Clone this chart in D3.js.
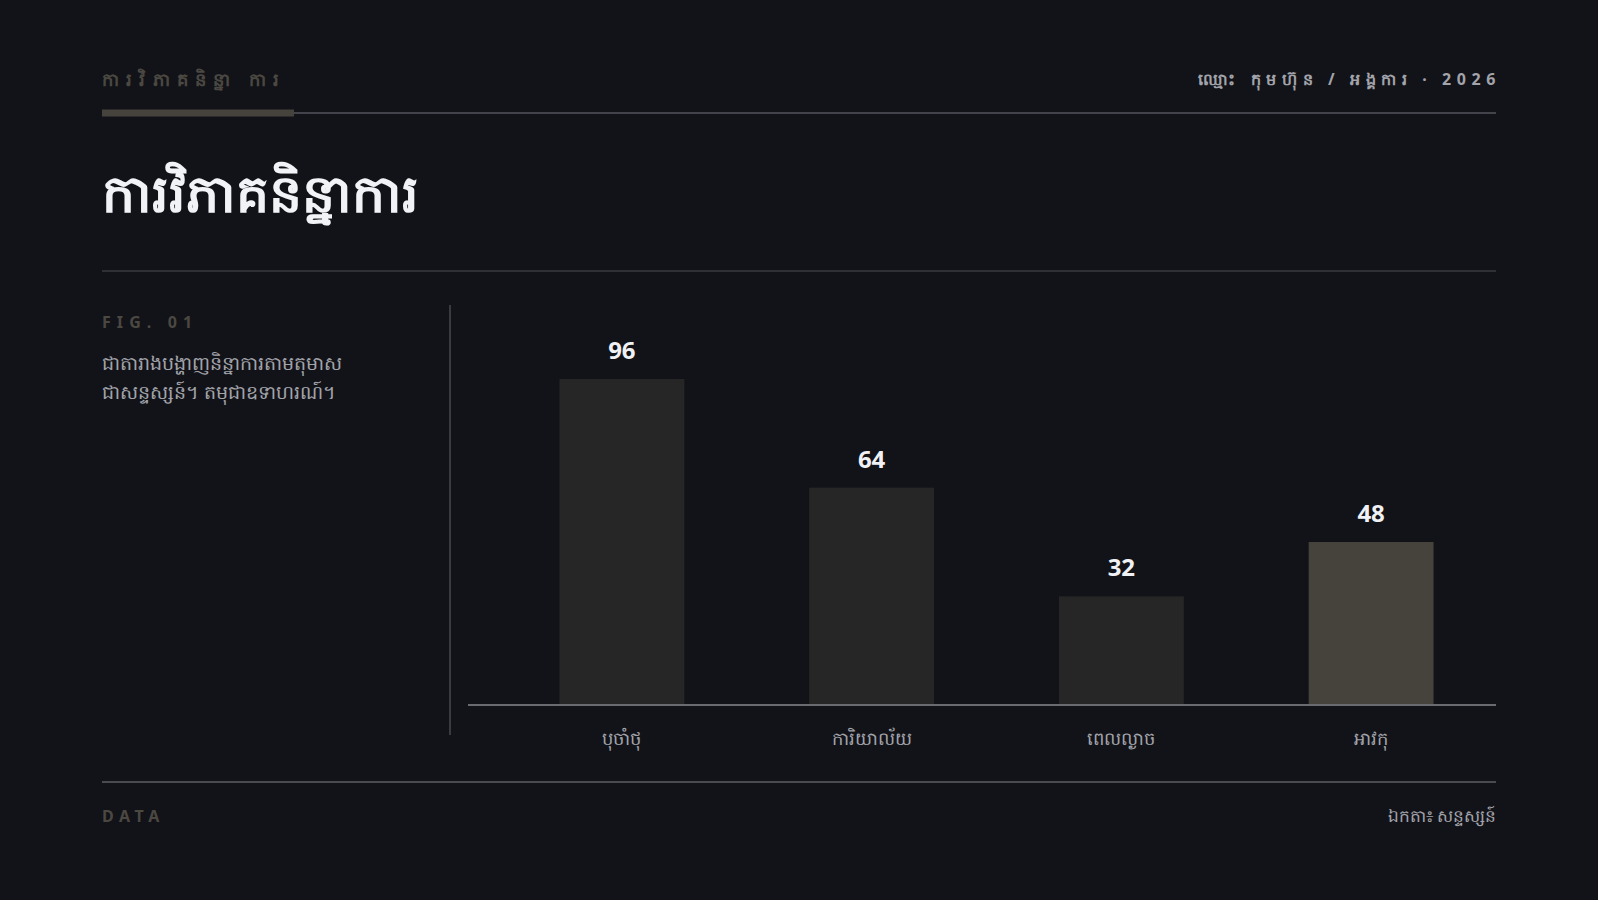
<!DOCTYPE html>
<html>
<head>
<meta charset="utf-8">
<script src="https://cdn.jsdelivr.net/npm/d3@7"></script>
<style>
  html, body { margin: 0; padding: 0; background: #121318; }
  svg { display: block; }
  text { font-family: "Noto Sans", "Open Sans", sans-serif; }
</style>
</head>
<body>
<svg id="chart" width="1598" height="900"></svg>
<script>
const categories = ["បុចាំថុ", "ការិយាល័យ", "ពេលល្ងាច", "អាវកុ"];
const values = [96, 64, 32, 48];
const highlight = [false, false, false, true];
const kicker = "ការវិភាគនិន្នា ការ";
const title = "ការវិភាគនិន្នាការ";
const org = "ឈ្មោះ កុមហ៊ុន / អង្គការ · 2026";
const figLabel = "FIG. 01";
const descLines = ["ជាតារាងបង្ហាញនិន្នាការតាមតុមាស", "ជាសន្ទស្សន៍។ តមុជាឧទាហរណ៍។"];
const footLeft = "DATA";
const footRight = "ឯកតា៖ សន្ទស្សន៍";

const svg = d3.select("#chart");
const W = 1598, L = 102, R = 1496;
const BG = "#121318", RULE = "#3a3b41", MUTED = "#4b4842", SOFT = "#a2a3ab";

svg.append("rect").attr("width", W).attr("height", 900).attr("fill", BG);

// header
svg.append("text").attr("x", L).attr("y", 86).text(kicker)
  .attr("font-size", 18).attr("font-weight", 700).attr("letter-spacing", "0.4em").attr("fill", MUTED);
svg.append("line").attr("x1", 294).attr("x2", R).attr("y1", 113).attr("y2", 113)
  .attr("stroke", "#55565c").attr("stroke-width", 1.5);
svg.append("rect").attr("x", L).attr("y", 109.5).attr("width", 192).attr("height", 7).attr("fill", "#46433d");
svg.append("text").attr("x", R + 5).attr("y", 85).attr("text-anchor", "end").text(org)
  .attr("font-size", 16).attr("font-weight", 700).attr("letter-spacing", "0.35em").attr("fill", SOFT);

// title
svg.append("text").attr("x", L).attr("y", 212).text(title)
  .attr("font-size", 52).attr("font-weight", 700).attr("fill", "#f2f3f7");
svg.append("line").attr("x1", L).attr("x2", R).attr("y1", 271).attr("y2", 271)
  .attr("stroke", RULE).attr("stroke-width", 1.5);

// side notes
svg.append("text").attr("x", L).attr("y", 328).text(figLabel)
  .attr("font-size", 16).attr("font-weight", 700).attr("letter-spacing", "0.38em").attr("fill", MUTED);
svg.selectAll("text.desc").data(descLines).join("text").attr("class", "desc")
  .attr("x", L).attr("y", (d, i) => 370 + i * 29).text(d => d)
  .attr("font-size", 19).attr("fill", SOFT);
svg.append("line").attr("x1", 450).attr("x2", 450).attr("y1", 305).attr("y2", 735)
  .attr("stroke", RULE).attr("stroke-width", 2);

// chart
const x = d3.scaleBand().domain(categories).range([497, R]).paddingInner(0.5).paddingOuter(0.25);
const y = d3.scaleLinear().domain([0, 100]).range([705, 365.4]);

svg.append("g").selectAll("rect").data(values).join("rect")
  .attr("x", (d, i) => x(categories[i]))
  .attr("y", d => y(d))
  .attr("width", x.bandwidth())
  .attr("height", d => y(0) - y(d))
  .attr("fill", (d, i) => highlight[i] ? "#46433d" : "#262626");

svg.append("g").selectAll("text").data(values).join("text")
  .attr("x", (d, i) => x(categories[i]) + x.bandwidth() / 2)
  .attr("y", d => y(d) - 20)
  .attr("text-anchor", "middle").text(d => d)
  .attr("font-size", 24).attr("font-weight", 700).attr("fill", "#f0f1f5");

const xAxis = svg.append("g").attr("transform", `translate(0,${y(0)})`)
  .call(d3.axisBottom(x).tickSize(0).tickPadding(40));
xAxis.select(".domain").remove();
xAxis.selectAll("text").attr("font-size", 18).attr("fill", SOFT)
  .attr("font-family", "'Noto Sans', sans-serif").attr("dy", 0);
svg.append("line").attr("x1", 468).attr("x2", R).attr("y1", y(0)).attr("y2", y(0))
  .attr("stroke", "#6a6b71").attr("stroke-width", 2);

// footer
svg.append("line").attr("x1", L).attr("x2", R).attr("y1", 782).attr("y2", 782)
  .attr("stroke", "#4a4b51").attr("stroke-width", 2);
svg.append("text").attr("x", L).attr("y", 822).text(footLeft)
  .attr("font-size", 16).attr("font-weight", 700).attr("letter-spacing", "0.35em").attr("fill", MUTED);
svg.append("text").attr("x", R).attr("y", 822).attr("text-anchor", "end").text(footRight)
  .attr("font-size", 17).attr("fill", SOFT);
</script>
</body>
</html>
